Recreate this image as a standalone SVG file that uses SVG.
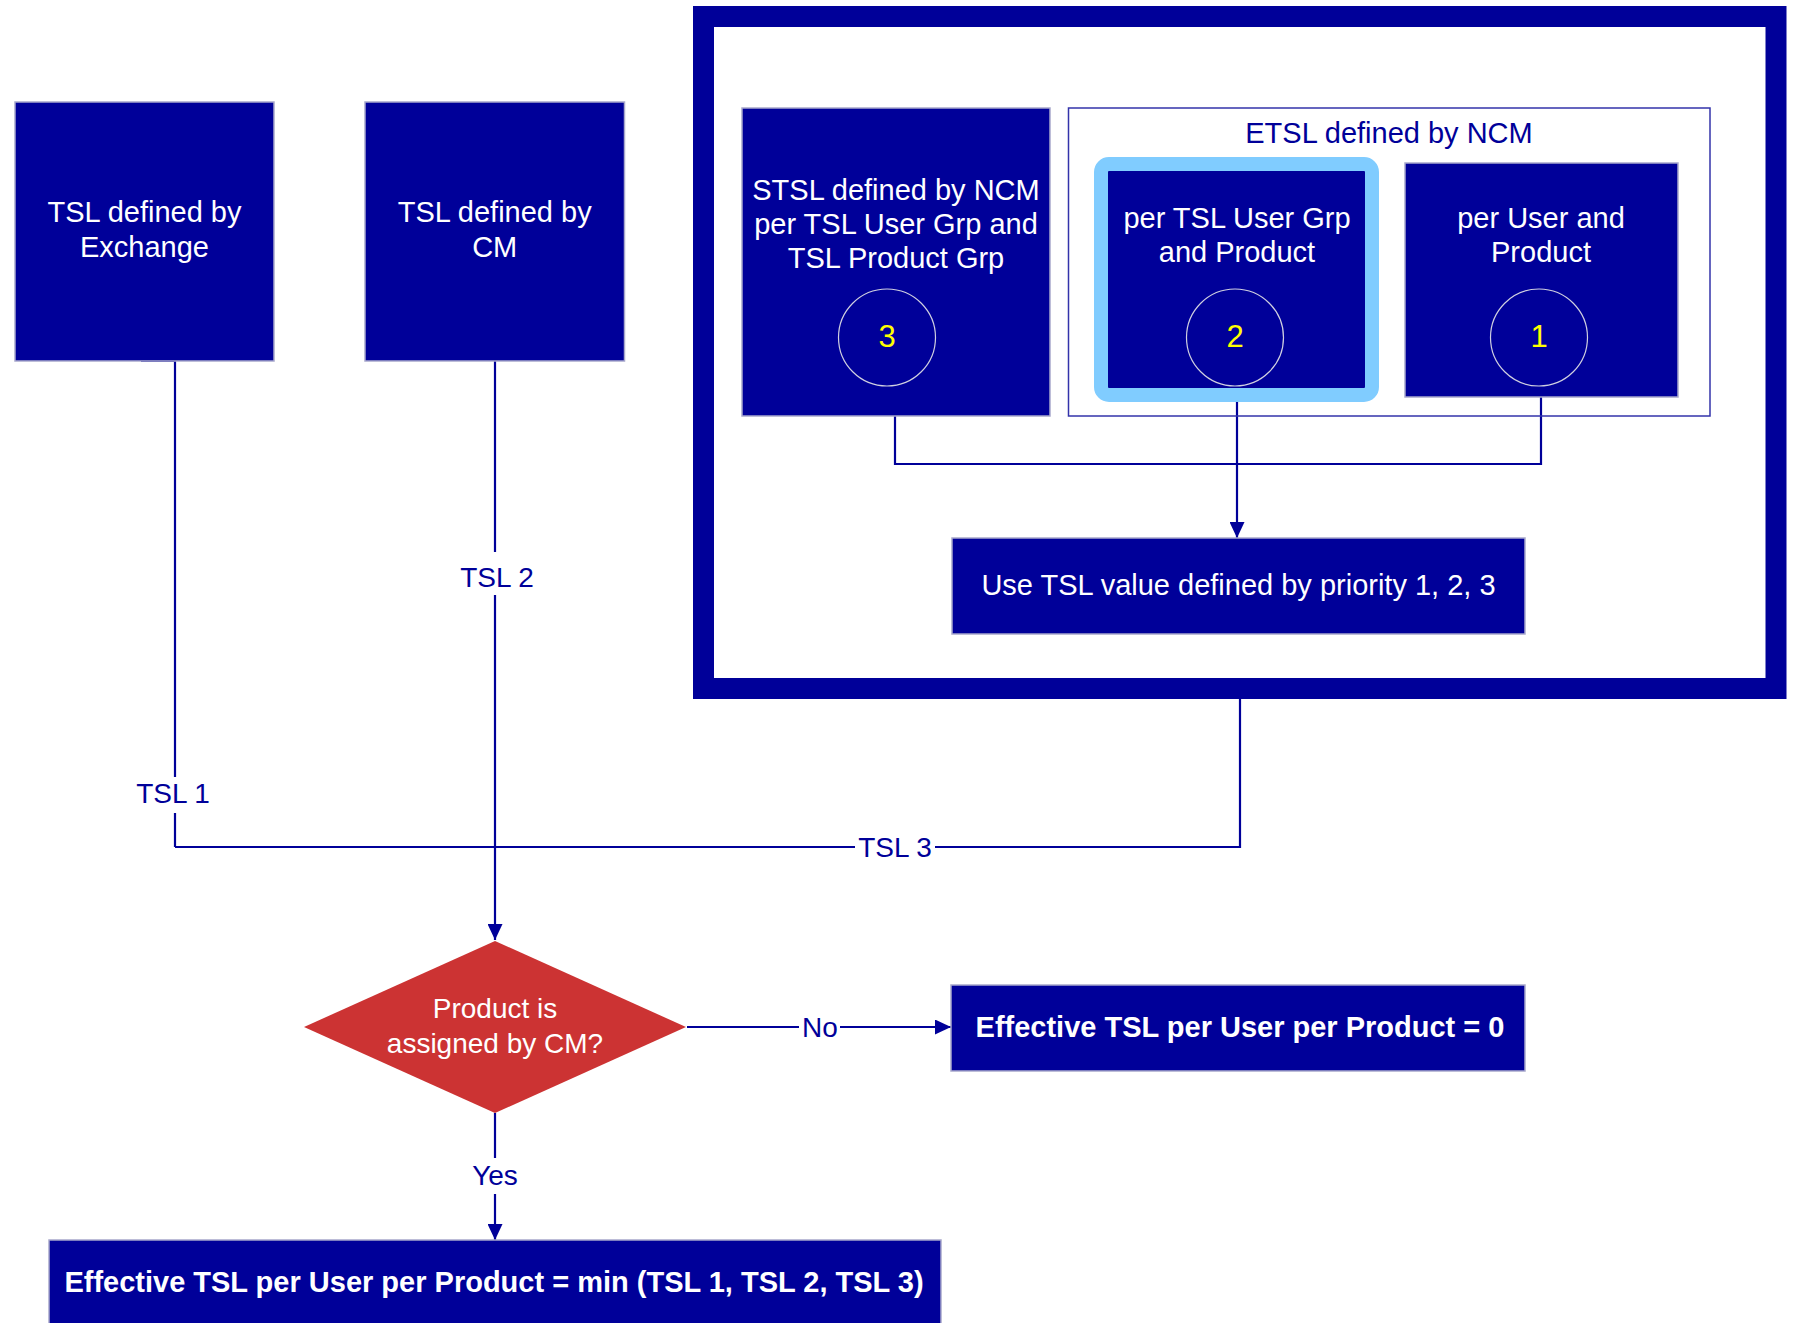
<svg xmlns="http://www.w3.org/2000/svg" width="1793" height="1323" viewBox="0 0 1793 1323">
<style>
.box{fill:#000099;stroke:#a8a8cc;stroke-width:1.5}
.t{font-family:"Liberation Sans",Arial,sans-serif;font-size:29px;fill:#ffffff;text-anchor:middle}
.b{font-weight:bold}
.lbl{font-family:"Liberation Sans",Arial,sans-serif;font-size:28px;fill:#000099;text-anchor:middle}
.num{font-family:"Liberation Sans",Arial,sans-serif;font-size:31px;fill:#ffff00;text-anchor:middle}
.ring{fill:none;stroke:#d0d0e0;stroke-width:1.2}
.conn{fill:none;stroke:#000099;stroke-width:2.2}
.bg{fill:#ffffff}
</style>
<defs>
<marker id="arr" markerUnits="userSpaceOnUse" markerWidth="16" markerHeight="15" refX="16" refY="7.5" orient="auto">
<path d="M0,0 L16,7.5 L0,15 z" fill="#000099"/>
</marker>
</defs>
<rect width="1793" height="1323" fill="#ffffff"/>

<g id="frame">
<rect x="703.5" y="16.5" width="1072.5" height="672" fill="#ffffff" stroke="#000099" stroke-width="21"/>
</g>

<g id="connectors">
<path class="conn" d="M141,361 H175 V847"/>
<path class="conn" d="M1240,699 V847 H175"/>
<path class="conn" d="M495,361 V940" marker-end="url(#arr)"/>
<path class="conn" d="M895,416 V464 H1541 V397"/>
<path class="conn" d="M1237,402 V538" marker-end="url(#arr)"/>
<path class="conn" d="M687,1027 H951" marker-end="url(#arr)"/>
<path class="conn" d="M495,1113 V1240" marker-end="url(#arr)"/>
<rect class="bg" x="136" y="777" width="74" height="36"/>
<text class="lbl" x="173" y="803">TSL 1</text>
<rect class="bg" x="458" y="552" width="79" height="43"/>
<text class="lbl" x="497" y="587">TSL 2</text>
<rect class="bg" x="855" y="832" width="80" height="30"/>
<text class="lbl" x="895" y="857">TSL 3</text>
<rect class="bg" x="799" y="1010" width="41" height="34"/>
<text class="lbl" x="820" y="1037">No</text>
<rect class="bg" x="470" y="1158" width="52" height="36"/>
<text class="lbl" x="495" y="1185">Yes</text>
</g>

<g id="exchange">
<rect class="box" x="15" y="102" width="259" height="259"/>
<text class="t" x="144.5" y="222">TSL defined by</text>
<text class="t" x="144.5" y="257">Exchange</text>
</g>

<g id="cm">
<rect class="box" x="365" y="102" width="259.5" height="259"/>
<text class="t" x="494.7" y="222">TSL defined by</text>
<text class="t" x="494.7" y="257">CM</text>
</g>

<g id="stsl">
<rect class="box" x="742" y="108" width="308" height="308"/>
<text class="t" x="896" y="200">STSL defined by NCM</text>
<text class="t" x="896" y="234">per TSL User Grp and</text>
<text class="t" x="896" y="268">TSL Product Grp</text>
<circle class="ring" cx="887" cy="337.5" r="48.5"/>
<text class="num" x="887" y="347">3</text>
</g>

<g id="etsl">
<rect x="1068.5" y="108" width="641.5" height="308" fill="none" stroke="#3333aa" stroke-width="1.5"/>
<text class="lbl" x="1389" y="143" style="font-size:29px">ETSL defined by NCM</text>
</g>

<g id="usergrp">
<rect x="1101" y="164" width="271" height="231" rx="8" fill="#000099" stroke="#80ccff" stroke-width="14"/>
<text class="t" x="1237" y="228">per TSL User Grp</text>
<text class="t" x="1237" y="262">and Product</text>
<circle class="ring" cx="1235" cy="337.5" r="48.5"/>
<text class="num" x="1235" y="347">2</text>
</g>

<g id="user">
<rect class="box" x="1405" y="163" width="273" height="234"/>
<text class="t" x="1541" y="228">per User and</text>
<text class="t" x="1541" y="262">Product</text>
<circle class="ring" cx="1539" cy="337.5" r="48.5"/>
<text class="num" x="1539" y="347">1</text>
</g>

<g id="priority">
<rect class="box" x="952" y="538" width="573" height="96"/>
<text class="t" x="1238.5" y="595">Use TSL value defined by priority 1, 2, 3</text>
</g>

<g id="decision">
<polygon points="495,941 686,1027 495,1113 304,1027" fill="#cc3333"/>
<text class="t" x="495" y="1018" style="font-size:28px">Product is</text>
<text class="t" x="495" y="1053" style="font-size:28px">assigned by CM?</text>
</g>

<g id="zero">
<rect class="box" x="951" y="985" width="574" height="86"/>
<text class="t b" x="1240" y="1037">Effective TSL per User per Product = 0</text>
</g>

<g id="min">
<rect class="box" x="49" y="1240" width="892" height="100"/>
<text class="t b" x="494" y="1292">Effective TSL per User per Product = min (TSL 1, TSL 2, TSL 3)</text>
</g>
</svg>
